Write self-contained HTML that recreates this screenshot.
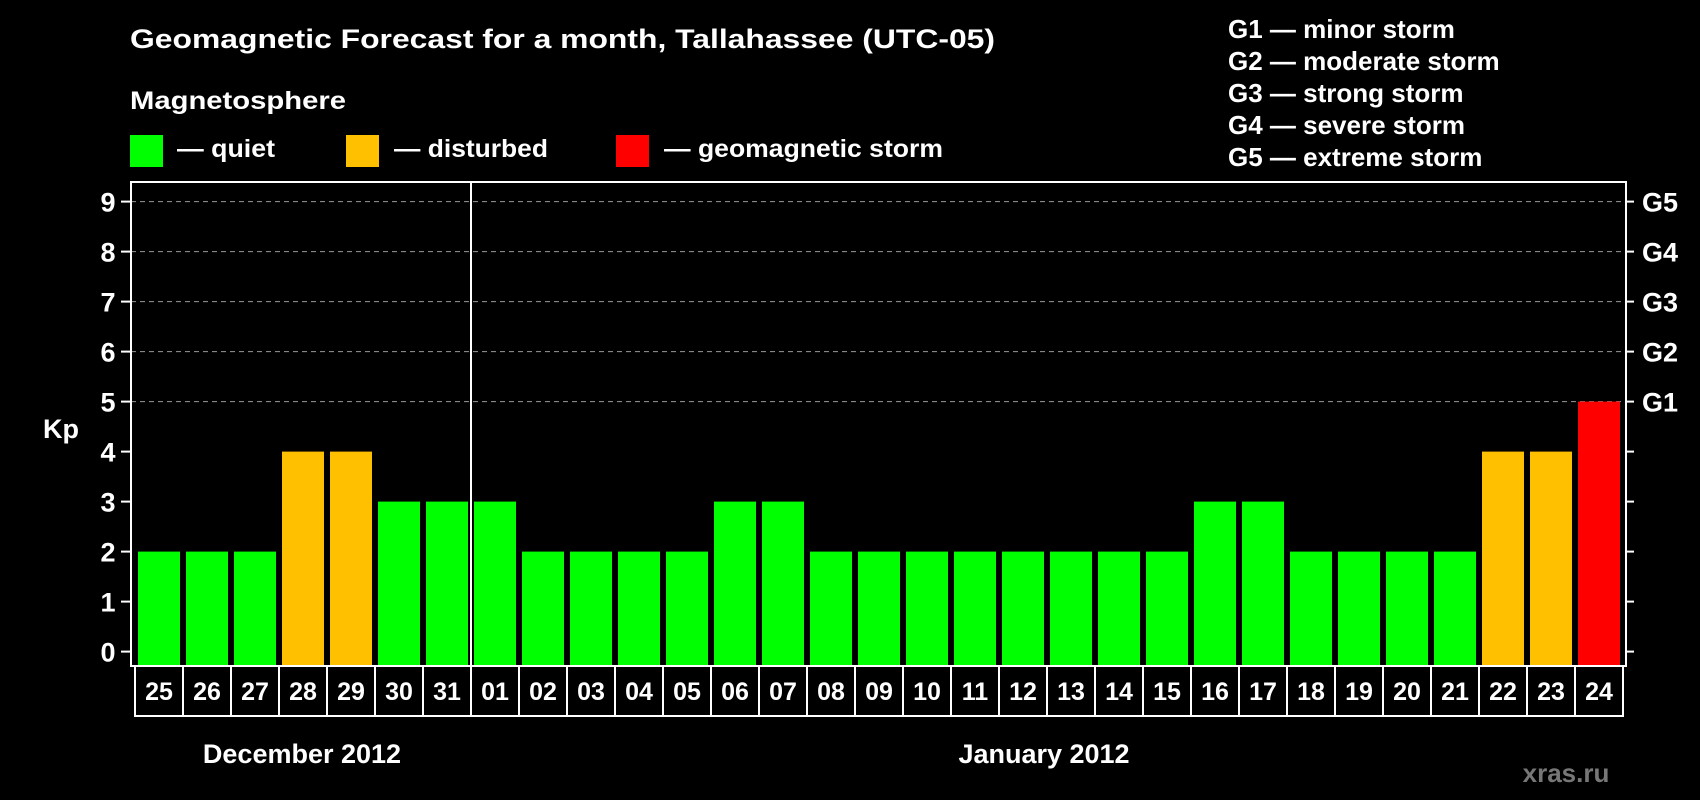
<!DOCTYPE html>
<html><head><meta charset="utf-8"><style>
html,body{margin:0;padding:0;background:#000;}
svg{display:block;font-family:"Liberation Sans",Arial,sans-serif;font-weight:bold;}
</style></head><body>
<svg id="chart" width="1700" height="800" viewBox="0 0 1700 800">
<rect x="0" y="0" width="1700" height="800" fill="#000"/>
<text x="130" y="48" fill="#fff" font-size="27" textLength="865" lengthAdjust="spacingAndGlyphs">Geomagnetic Forecast for a month, Tallahassee (UTC-05)</text>
<text x="130" y="109" fill="#fff" font-size="25" textLength="216" lengthAdjust="spacingAndGlyphs">Magnetosphere</text>
<g>
<rect x="130" y="135" width="33" height="32" fill="#00ff00"/>
<text x="177" y="157" fill="#fff" font-size="25" textLength="98" lengthAdjust="spacingAndGlyphs">— quiet</text></g>
<g>
<rect x="346" y="135" width="33" height="32" fill="#ffc000"/>
<text x="394" y="157" fill="#fff" font-size="25" textLength="154" lengthAdjust="spacingAndGlyphs">— disturbed</text></g>
<g>
<rect x="616" y="135" width="33" height="32" fill="#ff0000"/>
<text x="664" y="157" fill="#fff" font-size="25" textLength="279" lengthAdjust="spacingAndGlyphs">— geomagnetic storm</text></g>
<g fill="#fff" font-size="26">
<text x="1228" y="38">G1 — minor storm</text>
<text x="1228" y="70">G2 — moderate storm</text>
<text x="1228" y="102">G3 — strong storm</text>
<text x="1228" y="134">G4 — severe storm</text>
<text x="1228" y="166">G5 — extreme storm</text>
</g>
<text x="43" y="438" fill="#fff" font-size="27">Kp</text>
<text x="302" y="763" fill="#fff" font-size="27" text-anchor="middle">December 2012</text>
<text x="1044" y="763" fill="#fff" font-size="27" text-anchor="middle">January 2012</text>
<text x="1566" y="782" fill="#777" font-size="26" text-anchor="middle">xras.ru</text>
<g id="plot"></g>
</svg>
<script>
const days = ["25","26","27","28","29","30","31","01","02","03","04","05","06","07","08","09","10","11","12","13","14","15","16","17","18","19","20","21","22","23","24"];
const kpValues = [2,2,2,4,4,3,3,3,2,2,2,2,3,3,2,2,2,2,2,2,2,2,3,3,2,2,2,2,4,4,5];
const yTicks = [0,1,2,3,4,5,6,7,8,9];
const gLabels = ["G1","G2","G3","G4","G5"];
const gLevels = [5,6,7,8,9];

const NS = "http://www.w3.org/2000/svg";
const plot = document.getElementById("plot");
const L = 131, R = 1626, T = 182, B = 666;
const y0 = 651.6, unit = 50;
const colStart = 135, colW = 48;
function yScale(v){ return y0 - v*unit; }
function xScale(i){ return colStart + i*colW; }
function mk(tag, attrs){ const e = document.createElementNS(NS, tag); for (const k in attrs) e.setAttribute(k, attrs[k]); plot.appendChild(e); return e; }
function barColor(v){ return v >= 5 ? "#ff0000" : (v >= 4 ? "#ffc000" : "#00ff00"); }

yTicks.forEach(function(t){
  const y = yScale(t);
  if (t >= 5) {
    const g = mk("line", {x1:L, x2:R, y1:y, y2:y, stroke:"#999", "stroke-width":1, "stroke-dasharray":"5,4"});
    
    
  }
  const tl = mk("line", {x1:L-10, x2:L, y1:y, y2:y, stroke:"#fff", "stroke-width":2});
  
  
  const tr = mk("line", {x1:R, x2:R+8, y1:y, y2:y, stroke:"#fff", "stroke-width":2});
  
  
  const lb = mk("text", {x:108, y:y+10, fill:"#fff", "font-size":27, "text-anchor":"middle"});
  lb.textContent = t;
  
  
});
gLabels.forEach(function(g, i){
  const t = mk("text", {x:1642, y:yScale(gLevels[i])+10, fill:"#fff", "font-size":27});
  t.textContent = g;
  
  
});

kpValues.forEach(function(v, i){
  const x = xScale(i) + 3;
  const r = mk("rect", {x:x, y:yScale(v), width:42, height:B - yScale(v), fill:barColor(v)});
  
  
});

const frame = mk("rect", {x:L, y:T, width:R-L, height:B-T, fill:"none", stroke:"#fff", "stroke-width":2});



days.forEach(function(d, i){
  const x = xScale(i);
  const c = mk("rect", {x:x, y:B, width:colW, height:50, fill:"none", stroke:"#fff", "stroke-width":2});
  
  
  const t = mk("text", {x:x+colW/2, y:B+34, fill:"#fff", "font-size":25, "text-anchor":"middle"});
  t.textContent = d;
  
  
});

const monthIdx = days.indexOf("01");
const div = mk("line", {x1:xScale(monthIdx), x2:xScale(monthIdx), y1:T, y2:B+50, stroke:"#fff", "stroke-width":2});


</script>
</body></html>
